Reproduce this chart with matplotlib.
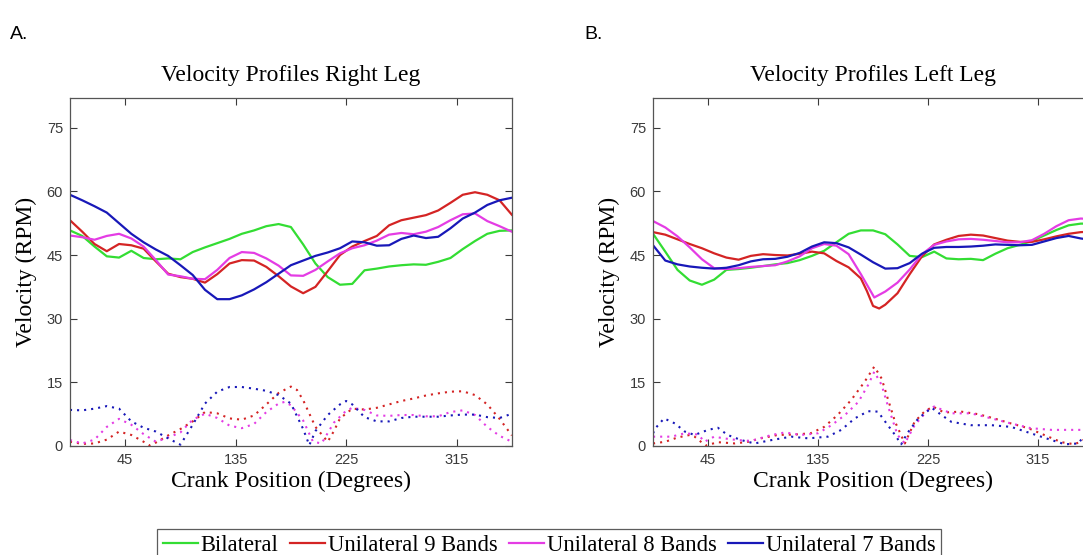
import matplotlib.pyplot as plt

# crank angle grid (degrees) shared by most of the solid mean curves
ANGLES = list(range(0, 361, 10))

# ---- right leg (panel A), mean velocity in RPM ----
right_bilateral = [50.8, 49.5, 47.0, 44.7, 44.4, 46.0, 44.3, 44.0, 44.2, 44.0, 45.7, 46.8, 47.8,
                   48.8, 50.0, 50.8, 51.8, 52.3, 51.6, 47.5, 43.0, 39.8, 38.0, 38.2, 41.4, 41.8,
                   42.3, 42.6, 42.8, 42.7, 43.4, 44.3, 46.4, 48.3, 50.0, 50.7, 50.8]
right_uni9 = [53.2, 50.5, 47.6, 45.9, 47.6, 47.3, 46.5, 43.5, 40.6, 39.8, 39.4, 38.5, 40.5,
              43.0, 43.8, 43.7, 42.2, 40.0, 37.6, 36.0, 37.5, 41.2, 45.0, 47.0, 48.3, 49.5,
              52.0, 53.2, 53.8, 54.4, 55.5, 57.3, 59.2, 59.8, 59.2, 57.9, 54.5]
right_uni8 = [49.6, 49.2, 48.6, 49.5, 50.0, 48.9, 47.0, 43.8, 40.4, 40.0, 39.4, 39.3, 41.5,
              44.3, 45.7, 45.5, 44.2, 42.5, 40.2, 40.1, 41.5, 43.5, 45.4, 46.6, 47.3, 48.4,
              49.8, 50.2, 49.9, 50.5, 51.6, 53.2, 54.6, 54.8, 53.0, 51.8, 50.5]
right_uni7 = [59.2, 57.9, 56.5, 55.0, 52.5, 50.0, 48.0, 46.3, 44.8, 42.6, 40.3, 36.8, 34.6,
              34.6, 35.5, 36.9, 38.6, 40.6, 42.6, 43.7, 44.8, 45.6, 46.6, 48.2, 48.0, 47.2,
              47.3, 48.8, 49.6, 49.0, 49.3, 51.3, 53.6, 55.0, 56.8, 57.9, 58.5]

# right leg, dotted difference curves
right_d9_ang = [0, 10, 20, 30, 40, 50, 60, 65, 70, 80, 90, 100, 110, 120, 130, 140, 150, 160, 170,
                180, 185, 190, 200, 210, 215, 220, 230, 240, 250, 260, 270, 280, 290, 300, 310,
                320, 330, 340, 350, 360]
right_d9 = [1.0, 0.5, 0.6, 1.5, 3.4, 2.6, 1.0, 0.1, 0.8, 2.5, 4.0, 5.8, 8.0, 7.7, 6.5, 6.2, 7.2,
            9.8, 12.5, 14.0, 13.2, 10.8, 4.5, 1.0, 3.5, 6.5, 8.8, 8.6, 9.0, 9.8, 10.6, 11.2, 11.9,
            12.4, 12.8, 12.9, 12.0, 9.8, 6.4, 2.5]
right_d8_ang = [0, 10, 20, 30, 40, 50, 60, 70, 80, 90, 100, 110, 120, 130, 140, 150, 160, 170, 175,
                180, 190, 198, 205, 215, 225, 230, 240, 250, 260, 270, 280, 290, 300, 310, 320,
                330, 340, 350, 360]
right_d8 = [1.4, 0.6, 1.5, 4.5, 6.4, 5.0, 2.8, 1.0, 2.0, 3.2, 6.2, 7.6, 6.6, 4.8, 4.2, 5.2, 8.0,
            10.0, 10.4, 9.6, 6.0, 1.0, 0.6, 5.5, 8.3, 9.0, 8.5, 7.2, 7.1, 7.3, 7.3, 7.0, 7.0,
            8.0, 8.4, 7.3, 4.5, 2.4, 1.0]
right_d7_ang = [0, 10, 20, 30, 40, 50, 60, 70, 80, 90, 100, 110, 120, 130, 140, 150, 160, 170,
                180, 190, 195, 200, 210, 220, 225, 230, 240, 250, 260, 270, 280, 290, 300, 310,
                320, 330, 340, 350, 360]
right_d7 = [8.5, 8.4, 8.8, 9.4, 8.8, 5.8, 4.3, 3.4, 1.8, 0.3, 5.0, 10.0, 12.8, 13.9, 13.9, 13.5,
            13.0, 12.0, 10.0, 4.0, 0.2, 3.5, 7.3, 9.8, 10.6, 9.8, 6.8, 5.8, 5.8, 6.6, 6.9, 6.9,
            6.9, 7.2, 7.4, 7.4, 6.8, 6.6, 7.6]

# ---- left leg (panel B), mean velocity in RPM ----
left_bilateral = [50.0, 45.8, 41.5, 39.0, 38.0, 39.2, 41.5, 41.7, 42.0, 42.4, 42.8, 43.1, 43.8,
                  44.8, 46.0, 48.0, 50.0, 50.8, 50.8, 49.9, 47.5, 44.8, 44.5, 45.8, 44.2, 44.0,
                  44.1, 43.8, 45.3, 46.6, 47.4, 48.3, 49.6, 50.9, 52.0, 52.4, 52.4]
left_uni9_ang = [0, 10, 20, 30, 40, 50, 60, 70, 80, 90, 100, 110, 120, 130, 140, 150, 160, 170,
                 175, 180, 185, 190, 200, 210, 220, 230, 240, 250, 260, 270, 280, 290, 300, 310,
                 320, 330, 340, 350, 360]
left_uni9 = [50.4, 49.8, 48.7, 47.6, 46.6, 45.4, 44.4, 43.9, 44.8, 45.2, 45.0, 44.9, 45.3, 45.8,
             45.4, 43.6, 42.1, 39.5, 36.5, 33.0, 32.4, 33.3, 36.0, 40.5, 44.7, 47.5, 48.6, 49.5,
             49.8, 49.6, 49.0, 48.4, 48.1, 48.1, 48.7, 49.4, 50.0, 50.4, 50.5]
left_uni8_ang = [0, 10, 20, 30, 40, 50, 60, 70, 80, 90, 100, 110, 120, 130, 140, 150, 160, 170,
                 181, 190, 200, 210, 220, 230, 240, 250, 260, 270, 280, 290, 300, 310, 320, 330,
                 340, 350, 360]
left_uni8 = [53.0, 51.5, 49.4, 46.8, 44.0, 41.9, 41.7, 41.9, 42.2, 42.4, 42.6, 43.5, 44.7, 46.6,
             47.6, 47.2, 45.2, 40.5, 35.0, 36.4, 38.5, 41.6, 45.2, 47.4, 48.2, 48.7, 48.8, 48.6,
             48.3, 48.0, 48.0, 48.5, 50.0, 51.8, 53.2, 53.6, 53.4]
left_uni7 = [47.3, 43.7, 42.8, 42.3, 42.0, 41.8, 42.0, 42.6, 43.5, 44.0, 44.1, 44.6, 45.5, 47.0,
             48.0, 47.8, 46.8, 45.1, 43.3, 41.8, 41.9, 43.1, 45.3, 46.7, 46.9, 46.9, 47.0, 47.2,
             47.5, 47.4, 47.3, 47.4, 48.2, 49.0, 49.5, 48.9, 48.5]

# left leg, dotted difference curves
left_d9_ang = [0, 10, 20, 30, 34, 43, 53, 67, 78, 88, 102, 116, 129, 140, 151, 162, 173, 181,
               187, 192, 198, 206, 214, 222, 229, 238, 252, 266, 279, 293, 307, 320, 334, 345,
               352, 360]
left_d9 = [0.6, 1.0, 2.0, 2.6, 2.2, 0.1, 0.9, 0.6, 1.0, 1.8, 2.6, 2.7, 3.0, 4.5, 7.3, 10.8, 15.1,
           18.7, 15.9, 11.2, 5.7, 0.6, 5.7, 8.1, 9.3, 7.9, 8.1, 7.5, 6.5, 5.3, 4.2, 2.6, 0.9,
           0.4, 1.4, 1.6]
left_d8_ang = [0, 15, 26, 37, 42, 50, 58, 69, 80, 97, 108, 121, 135, 146, 157, 168, 176, 181,
               187, 192, 200, 206, 214, 225, 230, 244, 260, 277, 293, 309, 326, 339, 352, 360]
left_d8 = [2.2, 2.2, 3.0, 2.7, 1.0, 2.2, 1.8, 1.4, 1.2, 2.6, 3.2, 2.6, 3.0, 4.9, 7.3, 10.4,
           14.4, 17.5, 14.4, 9.6, 2.6, 0.6, 4.9, 8.5, 9.3, 7.7, 7.7, 6.5, 5.3, 4.2, 3.8, 3.8,
           3.8, 3.6]
left_d7_ang = [0, 2, 9, 18, 26, 34, 45, 53, 61, 72, 83, 97, 113, 127, 143, 154, 165, 176, 184,
               189, 198, 203, 208, 217, 228, 236, 244, 260, 277, 293, 309, 326, 337, 348, 352,
               360]
left_d7 = [3.0, 4.2, 6.5, 5.3, 3.4, 2.6, 3.8, 4.3, 2.6, 1.4, 0.6, 1.4, 2.2, 1.8, 2.2, 3.8, 6.5,
           8.2, 8.1, 6.1, 2.6, 0.4, 3.0, 6.5, 9.0, 7.3, 5.7, 4.9, 4.9, 4.5, 3.0, 1.4, 0.4, 0.6,
           2.2, 2.4]

LABELS = ["Bilateral", "Unilateral 9 Bands", "Unilateral 8 Bands", "Unilateral 7 Bands"]
COLORS = ["#33dd33", "#d42424", "#e43ce4", "#1818b8"]

SERIF = "Liberation Serif"
SANS = "Liberation Sans"
DOTS = (0, (1, 2.4))


def style_axes(ax, title):
    ax.set_xlim(0, 360)
    ax.set_ylim(0, 82)
    ax.set_xticks([45, 135, 225, 315])
    ax.set_yticks([0, 15, 30, 45, 60, 75])
    ax.tick_params(direction="in", top=True, right=True, length=5, width=0.8,
                   labelsize=10.5, colors="#3a3a3a", pad=5)
    for lab in ax.get_xticklabels() + ax.get_yticklabels():
        lab.set_fontfamily(SANS)
    for sp in ax.spines.values():
        sp.set_color("#555555")
        sp.set_linewidth(0.9)
    ax.set_title(title, fontfamily=SERIF, fontsize=17, pad=12)
    ax.set_xlabel("Crank Position (Degrees)", fontfamily=SERIF, fontsize=17, labelpad=3)
    ax.set_ylabel("Velocity (RPM)", fontfamily=SERIF, fontsize=17, labelpad=7)


fig = plt.figure(figsize=(10.83, 5.55), dpi=100)
ax_a = fig.add_axes([0.0646, 0.1964, 0.408, 0.627])
ax_b = fig.add_axes([0.603, 0.1964, 0.4063, 0.627])

handles = []
for vals, color, label in zip([right_bilateral, right_uni9, right_uni8, right_uni7], COLORS, LABELS):
    h, = ax_a.plot(ANGLES, vals, color=color, linewidth=1.6, label=label)
    handles.append(h)
for ang, vals, color in zip([right_d9_ang, right_d8_ang, right_d7_ang],
                            [right_d9, right_d8, right_d7], COLORS[1:]):
    ax_a.plot(ang, vals, color=color, linewidth=1.5, linestyle=DOTS)

ax_b.plot(ANGLES, left_bilateral, color=COLORS[0], linewidth=1.6)
ax_b.plot(left_uni9_ang, left_uni9, color=COLORS[1], linewidth=1.6)
ax_b.plot(left_uni8_ang, left_uni8, color=COLORS[2], linewidth=1.6)
ax_b.plot(ANGLES, left_uni7, color=COLORS[3], linewidth=1.6)
for ang, vals, color in zip([left_d9_ang, left_d8_ang, left_d7_ang],
                            [left_d9, left_d8, left_d7], COLORS[1:]):
    ax_b.plot(ang, vals, color=color, linewidth=1.5, linestyle=DOTS)

style_axes(ax_a, "Velocity Profiles Right Leg")
style_axes(ax_b, "Velocity Profiles Left Leg")

fig.text(0.009, 0.93, "A.", fontfamily=SANS, fontsize=14)
fig.text(0.54, 0.93, "B.", fontfamily=SANS, fontsize=14)

leg = fig.legend(handles=handles, loc="lower center", bbox_to_anchor=(0.507, -0.012),
                 ncol=4, frameon=True, fancybox=False, borderaxespad=0,
                 prop={"family": SERIF, "size": 16.3}, handlelength=1.55, handletextpad=0.12,
                 columnspacing=0.5, borderpad=0.25)
leg.get_frame().set_edgecolor("#333333")
leg.get_frame().set_linewidth(0.9)

fig.savefig("out.png", dpi=100)
